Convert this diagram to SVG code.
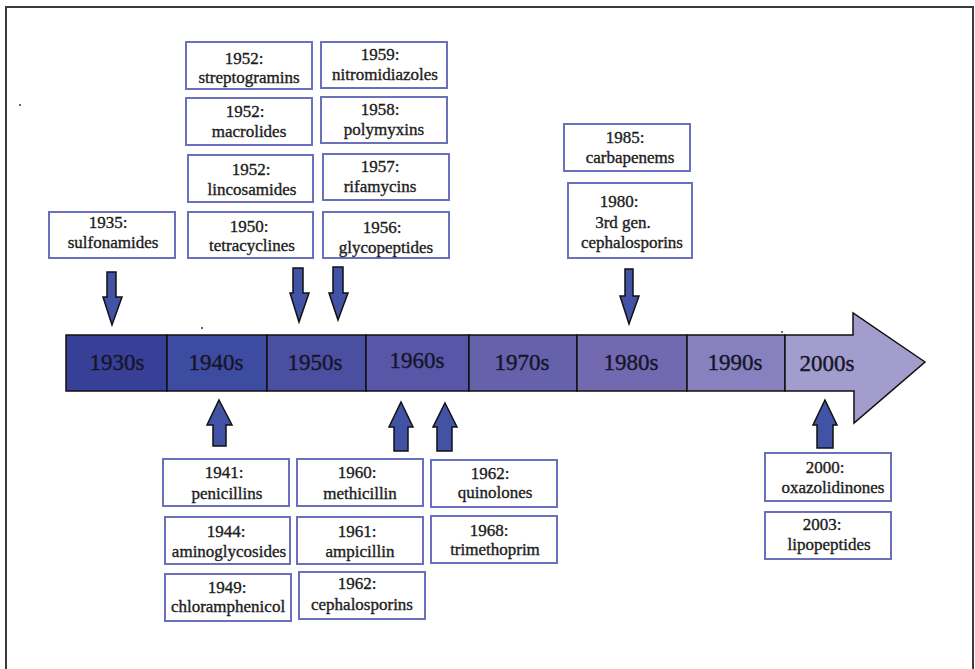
<svg xmlns="http://www.w3.org/2000/svg" width="975" height="669" viewBox="0 0 975 669">
<style>
.frame{fill:#fff;stroke:#3a3a3a;stroke-width:2}
.box rect{fill:#fff;stroke:#6B70BE;stroke-width:2}
.box text{font-family:'Liberation Serif','Times New Roman',serif;font-size:17px;font-weight:normal;fill:#1c1c1c;stroke:#1c1c1c;stroke-width:0.35;text-anchor:middle}
.seg rect,.seg polygon{stroke:#111;stroke-width:1.5}
.seg text{font-family:'Liberation Serif','Times New Roman',serif;font-size:23px;font-weight:normal;fill:#16162a;stroke:#16162a;stroke-width:0.4;text-anchor:middle}
.arr{fill:#4253A6;stroke:#111;stroke-width:1.5}
.dot{fill:#222}
</style>
<rect class="frame" x="6" y="7" width="967" height="700"/>
<circle class="dot" cx="20" cy="105" r="0.9"/>
<circle class="dot" cx="202" cy="328" r="0.9"/>
<circle class="dot" cx="782" cy="332" r="0.9"/>

<g id="timeline">
  <g id="d1930" class="seg"><rect x="66" y="335" width="101" height="56" fill="#383F96"/><text x="117" y="370">1930s</text></g>
  <g id="d1940" class="seg"><rect x="167" y="335" width="100" height="56" fill="#3D4CA0"/><text x="216" y="370">1940s</text></g>
  <g id="d1950" class="seg"><rect x="267" y="335" width="99" height="56" fill="#4A4FA1"/><text x="315" y="370">1950s</text></g>
  <g id="d1960" class="seg"><rect x="366" y="335" width="103" height="56" fill="#5856A6"/><text x="417" y="368">1960s</text></g>
  <g id="d1970" class="seg"><rect x="469" y="335" width="108" height="56" fill="#6561AB"/><text x="522" y="370">1970s</text></g>
  <g id="d1980" class="seg"><rect x="577" y="335" width="110" height="56" fill="#7369B0"/><text x="631" y="370">1980s</text></g>
  <g id="d1990" class="seg"><rect x="687" y="335" width="98" height="56" fill="#8781BF"/><text x="735" y="370">1990s</text></g>
  <g id="d2000" class="seg"><polygon points="785,335 853,335 853,313 925,362 854,423 854,391 785,391" fill="#A29DCC"/><text x="827" y="371">2000s</text></g>
</g>

<g id="b1935" class="box"><rect x="49" y="212" width="126" height="46"/><text x="108" y="228">1935:</text><text x="113" y="248">sulfonamides</text></g>
<g id="b1952s" class="box"><rect x="186" y="42" width="126" height="47"/><text x="244" y="64">1952:</text><text x="249" y="83">streptogramins</text></g>
<g id="b1952m" class="box"><rect x="186" y="98" width="126" height="47"/><text x="245" y="117">1952:</text><text x="249" y="137">macrolides</text></g>
<g id="b1952l" class="box"><rect x="188" y="155" width="125" height="47"/><text x="251" y="175">1952:</text><text x="252" y="195">lincosamides</text></g>
<g id="b1950" class="box"><rect x="188" y="212" width="125" height="46"/><text x="249" y="232">1950:</text><text x="252" y="251">tetracyclines</text></g>
<g id="b1959" class="box"><rect x="321" y="42" width="126" height="46"/><text x="380" y="60">1959:</text><text x="385" y="80">nitromidiazoles</text></g>
<g id="b1958" class="box"><rect x="321" y="97" width="126" height="46"/><text x="380" y="115">1958:</text><text x="384" y="135">polymyxins</text></g>
<g id="b1957" class="box"><rect x="323" y="154" width="126" height="46"/><text x="380" y="172">1957:</text><text x="380" y="192">rifamycins</text></g>
<g id="b1956" class="box"><rect x="323" y="212" width="126" height="46"/><text x="382" y="233">1956:</text><text x="386" y="253">glycopeptides</text></g>
<g id="b1985" class="box"><rect x="564" y="124" width="126" height="47"/><text x="625" y="143">1985:</text><text x="630" y="163">carbapenems</text></g>
<g id="b1980" class="box"><rect x="568" y="183" width="124" height="75"/><text x="619" y="207">1980:</text><text x="623" y="228">3rd gen.</text><text x="632" y="248">cephalosporins</text></g>

<g id="b1941" class="box"><rect x="163" y="459" width="126" height="47"/><text x="224" y="478">1941:</text><text x="227" y="499">penicillins</text></g>
<g id="b1944" class="box"><rect x="165" y="517" width="125" height="47"/><text x="226" y="537">1944:</text><text x="229" y="557">aminoglycosides</text></g>
<g id="b1949" class="box"><rect x="165" y="574" width="126" height="47"/><text x="227" y="593">1949:</text><text x="228" y="612">chloramphenicol</text></g>
<g id="b1960" class="box"><rect x="297" y="459" width="126" height="47"/><text x="357" y="478">1960:</text><text x="360" y="499">methicillin</text></g>
<g id="b1961" class="box"><rect x="297" y="517" width="126" height="47"/><text x="357" y="537">1961:</text><text x="360" y="557">ampicillin</text></g>
<g id="b1962c" class="box"><rect x="299" y="572" width="126" height="47"/><text x="357" y="589">1962:</text><text x="362" y="610">cephalosporins</text></g>
<g id="b1962q" class="box"><rect x="431" y="460" width="126" height="47"/><text x="490" y="479">1962:</text><text x="495" y="498">quinolones</text></g>
<g id="b1968" class="box"><rect x="431" y="516" width="126" height="47"/><text x="489" y="536">1968:</text><text x="495" y="555">trimethoprim</text></g>
<g id="b2000" class="box"><rect x="765" y="453" width="126" height="48"/><text x="825" y="473">2000:</text><text x="833" y="493">oxazolidinones</text></g>
<g id="b2003" class="box"><rect x="765" y="512" width="126" height="47"/><text x="822" y="530">2003:</text><text x="829" y="550">lipopeptides</text></g>

<g id="connectors">
  <polygon class="arr" points="107,272 116,272 116,297 122,297 112,325 103,297 107,297"/>
  <polygon class="arr" points="293,268 303,268 303,293 309,293 299,322 290,293 293,293"/>
  <polygon class="arr" points="333,267 343,267 343,293 348,293 338,320 329,293 333,293"/>
  <polygon class="arr" points="625,269 633,269 633,296 639,296 629,324 620,296 625,296"/>
  <polygon class="arr" points="219,400 232,425 226,425 226,446 213,446 213,425 207,425"/>
  <polygon class="arr" points="401,402 413,427 408,427 408,451 394,451 394,427 389,427"/>
  <polygon class="arr" points="445,403 457,427 452,427 452,451 437,451 437,427 433,427"/>
  <polygon class="arr" points="825,400 837,425 833,425 833,448 817,448 817,425 813,425"/>
</g>
</svg>
